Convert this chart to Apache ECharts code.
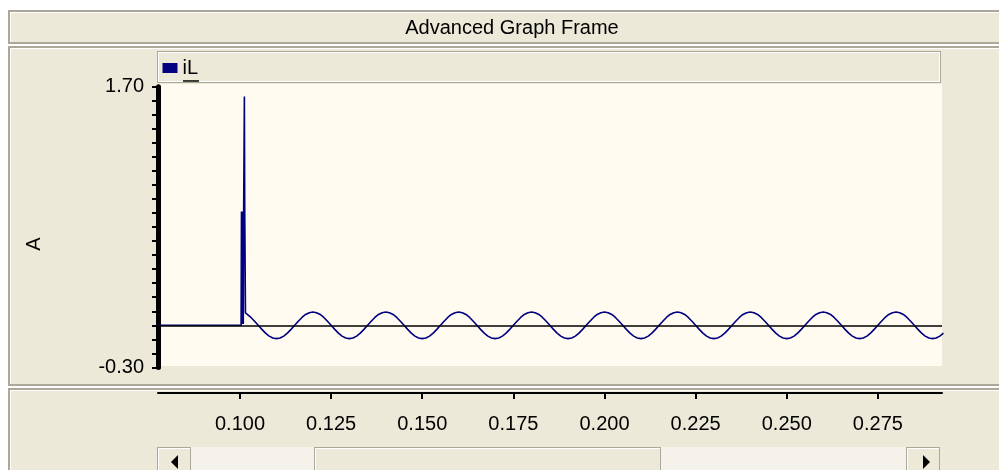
<!DOCTYPE html>
<html>
<head>
<meta charset="utf-8">
<script src="https://cdn.jsdelivr.net/npm/echarts@6/dist/echarts.min.js"></script>
<style>
html,body{margin:0;padding:0;background:#fff;}
#chart{width:999px;height:470px;}
</style>
</head>
<body>
<div id="chart"></div>
<script>
// ---- data ----
const chartTitle = 'Advanced Graph Frame';
const seriesName = 'iL';
const yAxisName = 'A';
const yMin = -0.30, yMax = 1.70;
const yLabelValues = [-0.30, 1.70];
const xMin = 0.0775, xMax = 0.2926;
const xTickLabels = [0.100, 0.125, 0.150, 0.175, 0.200, 0.225, 0.250, 0.275];

// flat part and switching transient (time s, current A)
const eventTimes  = [0.075, 0.1003, 0.1004, 0.1005, 0.1006, 0.1007, 0.1008, 0.1009, 0.1010, 0.1011, 0.1012, 0.1013, 0.1015];
const eventValues = [0.000, 0.000,  0.810,  0.010,  0.810,  0.010,  0.810,  0.010,  0.810,  0.810,  1.630,  0.810,  0.088];

// steady oscillation sampled every 1 ms starting at 0.102 s
const waveStart = 0.102;
const waveStep = 0.001;
const waveValues = [
  0.077, 0.056, 0.029, 0.000,-0.029,-0.056,-0.077,-0.090,-0.095,-0.090,-0.077,-0.056,-0.029, 0.000, 0.029, 0.056, 0.077, 0.090,
  0.095, 0.090, 0.077, 0.056, 0.029, 0.000,-0.029,-0.056,-0.077,-0.090,-0.095,-0.090,-0.077,-0.056,-0.029, 0.000, 0.029, 0.056, 0.077, 0.090,
  0.095, 0.090, 0.077, 0.056, 0.029, 0.000,-0.029,-0.056,-0.077,-0.090,-0.095,-0.090,-0.077,-0.056,-0.029, 0.000, 0.029, 0.056, 0.077, 0.090,
  0.095, 0.090, 0.077, 0.056, 0.029, 0.000,-0.029,-0.056,-0.077,-0.090,-0.095,-0.090,-0.077,-0.056,-0.029, 0.000, 0.029, 0.056, 0.077, 0.090,
  0.095, 0.090, 0.077, 0.056, 0.029, 0.000,-0.029,-0.056,-0.077,-0.090,-0.095,-0.090,-0.077,-0.056,-0.029, 0.000, 0.029, 0.056, 0.077, 0.090,
  0.095, 0.090, 0.077, 0.056, 0.029, 0.000,-0.029,-0.056,-0.077,-0.090,-0.095,-0.090,-0.077,-0.056,-0.029, 0.000, 0.029, 0.056, 0.077, 0.090,
  0.095, 0.090, 0.077, 0.056, 0.029, 0.000,-0.029,-0.056,-0.077,-0.090,-0.095,-0.090,-0.077,-0.056,-0.029, 0.000, 0.029, 0.056, 0.077, 0.090,
  0.095, 0.090, 0.077, 0.056, 0.029, 0.000,-0.029,-0.056,-0.077,-0.090,-0.095,-0.090,-0.077,-0.056,-0.029, 0.000, 0.029, 0.056, 0.077, 0.090,
  0.095, 0.090, 0.077, 0.056, 0.029, 0.000,-0.029,-0.056,-0.077,-0.090,-0.095,-0.090,-0.077,-0.056,-0.029, 0.000, 0.029, 0.056, 0.077, 0.090,
  0.095, 0.090, 0.077, 0.056, 0.029, 0.000,-0.029,-0.056,-0.077,-0.090,-0.095,-0.090,-0.077,-0.056
];

// ---- build the series table ----
const seriesData = [];
eventTimes.forEach((t, i) => seriesData.push([t, eventValues[i]]));
waveValues.forEach((v, i) => seriesData.push([+(waveStart + i * waveStep).toFixed(4), v]));

const FONT = '"Liberation Sans", Arial, sans-serif';
const BEIGE = '#ECE9D8', GRAY = '#ACA899', WHITE = '#FFFFFF';

function panel(x, y, w, h) {
  return [
    {type:'rect', z:-20, silent:true, shape:{x:x, y:y, width:w, height:h}, style:{fill:GRAY}},
    {type:'rect', z:-19, silent:true, shape:{x:x+2, y:y+2, width:w-2, height:h-4}, style:{fill:WHITE}},
    {type:'rect', z:-18, silent:true, shape:{x:x+3, y:y+3, width:w-3, height:h-5}, style:{fill:BEIGE}}
  ];
}
function button(x, y, w, h) {
  return [
    {type:'rect', z:-15, silent:true, shape:{x:x, y:y, width:w, height:h}, style:{fill:GRAY}},
    {type:'rect', z:-14, silent:true, shape:{x:x+1, y:y+1, width:w-2, height:h}, style:{fill:WHITE}},
    {type:'rect', z:-13, silent:true, shape:{x:x+2, y:y+2, width:w-3, height:h}, style:{fill:BEIGE}}
  ];
}

const graphics = [].concat(
  panel(8, 10, 995, 34),
  panel(8, 46, 995, 340),
  panel(8, 388, 995, 90),
  [
    // legend box
    {type:'rect', z:-12, silent:true, shape:{x:157, y:51, width:784, height:32}, style:{fill:GRAY}},
    {type:'rect', z:-11, silent:true, shape:{x:158, y:52, width:782, height:30}, style:{fill:WHITE}},
    {type:'rect', z:-10, silent:true, shape:{x:159, y:53, width:780, height:28}, style:{fill:BEIGE}},
    // plot background
    {type:'rect', z:-10, silent:true, shape:{x:159, y:84, width:783, height:282}, style:{fill:'#FFFBF0'}},
    // scrollbar track
    {type:'rect', z:-16, silent:true, shape:{x:157, y:447, width:783, height:30}, style:{fill:'#F4F2EB'}},
    // legend label underline
    {type:'line', z:5, silent:true, shape:{x1:183, y1:81, x2:199, y2:81}, style:{stroke:'#000', lineWidth:1.5}}
  ],
  button(157, 447, 34, 30),
  button(314, 447, 347, 30),
  button(906, 447, 34, 30),
  [
    {type:'polygon', z:-5, silent:true, shape:{points:[[171,462],[178,455],[178,469]]}, style:{fill:'#000'}},
    {type:'polygon', z:-5, silent:true, shape:{points:[[930,462],[923,455],[923,469]]}, style:{fill:'#000'}}
  ]
);

const chart = echarts.init(document.getElementById('chart'), null, {renderer:'canvas'});
chart.setOption({
  animation: false,
  backgroundColor: '#FFFFFF',
  textStyle: {fontFamily: FONT},
  title: {
    text: chartTitle,
    left: 512,
    top: 18,
    padding: 0,
    textAlign: 'center',
    textStyle: {fontSize: 20, fontWeight: 'normal', color: '#000', fontFamily: FONT}
  },
  legend: {
    data: [seriesName],
    left: 162.5,
    top: 58,
    padding: 0,
    icon: 'rect',
    itemWidth: 15,
    itemHeight: 10,
    selectedMode: false,
    textStyle: {fontSize: 20, color: '#000', fontFamily: FONT}
  },
  grid: [
    {left: 158, right: 57, top: 86.7, bottom: 102.6, containLabel: false},
    // strip for the time axis: its zero line sits in the middle, at y = 393
    {left: 158, right: 57, top: 383, bottom: 67, containLabel: false}
  ],
  xAxis: [
    {
      type: 'value', gridIndex: 0, min: xMin, max: xMax,
      axisLine: {show: false}, axisTick: {show: false}, axisLabel: {show: false}, splitLine: {show: false}
    },
    {
      type: 'value', gridIndex: 1, min: xMin, max: xMax,
      axisLine: {show: true, lineStyle: {color: '#000', width: 2}},
      axisTick: {show: true, length: 6, lineStyle: {color: '#000', width: 2}, customValues: xTickLabels},
      axisLabel: {
        customValues: xTickLabels,
        margin: 11,
        fontSize: 20,
        color: '#000',
        fontFamily: FONT,
        formatter: v => v.toFixed(3)
      },
      splitLine: {show: false}
    }
  ],
  yAxis: [
    {
      type: 'value', gridIndex: 0,
      min: yMin,
      max: yMax,
      interval: 0.1,
      name: yAxisName,
      nameLocation: 'middle',
      nameRotate: 90,
      nameGap: 114,
      nameTextStyle: {fontSize: 20, color: '#000', fontFamily: FONT, padding: [0, 34, 0, 0]},
      axisLine: {show: true, lineStyle: {color: '#000', width: 5}},
      axisTick: {show: true, length: 6, lineStyle: {color: '#000', width: 2}},
      axisLabel: {
        customValues: yLabelValues,
        margin: 14,
        fontSize: 20,
        color: '#000',
        fontFamily: FONT,
        formatter: v => v.toFixed(2)
      },
      splitLine: {show: false}
    },
    {
      type: 'value', gridIndex: 1, min: -1, max: 1,
      axisLine: {show: false}, axisTick: {show: false}, axisLabel: {show: false}, splitLine: {show: false}
    }
  ],
  series: [{
    name: seriesName,
    type: 'line',
    xAxisIndex: 0,
    yAxisIndex: 0,
    data: seriesData,
    showSymbol: false,
    symbol: 'none',
    silent: true,
    clip: true,
    color: '#000080',
    lineStyle: {color: '#000080', width: 1.6},
    markLine: {
      silent: true,
      symbol: ['none', 'none'],
      label: {show: false},
      lineStyle: {color: '#000', width: 1.5, type: 'solid'},
      data: [{yAxis: 0}]
    }
  }],
  graphic: graphics
});
</script>
</body>
</html>
